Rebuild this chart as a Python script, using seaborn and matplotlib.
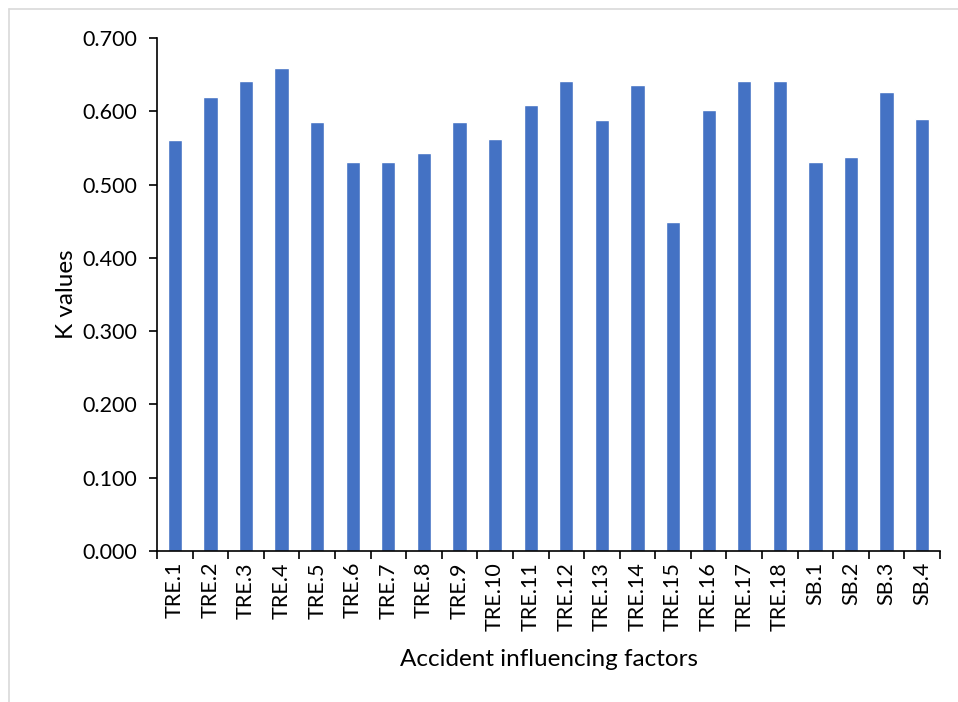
import matplotlib
matplotlib.use("Agg")
import matplotlib.pyplot as plt
from matplotlib.lines import Line2D
import seaborn as sns
import pandas as pd
from matplotlib.ticker import FormatStrFormatter, FixedLocator

factors = ["TRE.1", "TRE.2", "TRE.3", "TRE.4", "TRE.5", "TRE.6", "TRE.7", "TRE.8",
           "TRE.9", "TRE.10", "TRE.11", "TRE.12", "TRE.13", "TRE.14", "TRE.15",
           "TRE.16", "TRE.17", "TRE.18", "SB.1", "SB.2", "SB.3", "SB.4"]
k_values = [0.561, 0.619, 0.642, 0.659, 0.586, 0.531, 0.531, 0.543,
            0.586, 0.562, 0.609, 0.642, 0.588, 0.636, 0.449,
            0.602, 0.642, 0.642, 0.531, 0.537, 0.626, 0.590]
y_ticks = [0.0, 0.1, 0.2, 0.3, 0.4, 0.5, 0.6, 0.7]

sns.set_theme(style="white")
plt.rcParams["font.family"] = ["Lato", "DejaVu Sans"]

df = pd.DataFrame({"factor": factors, "k": k_values})

W, H = 958, 702
fig = plt.figure(figsize=(W / 100, H / 100), dpi=100)
ax = fig.add_axes([157 / W, 1 - 551 / H, (940 - 157) / W, (551 - 38) / H])

sns.barplot(data=df, x="factor", y="k", color="#4472C4", saturation=1,
            width=0.4, ax=ax)

ax.set_xlim(-0.5, len(factors) - 0.5)
ax.set_ylim(0, 0.7)
ax.set_yticks(y_ticks)
ax.yaxis.set_major_formatter(FormatStrFormatter("%.3f"))

# category labels centred under bars, tick marks between categories
ax.set_xticks(range(len(factors)))
ax.set_xticklabels(factors, rotation=90)
ax.xaxis.set_minor_locator(FixedLocator([i - 0.5 for i in range(len(factors) + 1)]))
ax.tick_params(axis="x", which="major", length=0, pad=8, labelsize=15.5, colors="black")
ax.tick_params(axis="x", which="minor", length=6, width=1.2, color="black", direction="out", bottom=True)
ax.tick_params(axis="y", which="major", length=6, width=1.2, color="black", direction="out",
               left=True, pad=8, labelsize=15.5, labelcolor="black")

for side in ["top", "right"]:
    ax.spines[side].set_visible(False)
for side in ["left", "bottom"]:
    ax.spines[side].set_color("black")
    ax.spines[side].set_linewidth(1.2)

ax.set_xlabel("Accident influencing factors", fontsize=17.5, color="black", labelpad=13)
ax.set_ylabel("K values", fontsize=17.5, color="black", labelpad=4)

# light chart-area frame
frame = "#d9d9d9"
fig.add_artist(Line2D([9 / W, 1], [1 - 9 / H, 1 - 9 / H], color=frame, lw=1.2,
                      transform=fig.transFigure))
fig.add_artist(Line2D([9 / W, 9 / W], [0, 1 - 9 / H], color=frame, lw=1.2,
                      transform=fig.transFigure))

fig.savefig("out.png", dpi=100)
